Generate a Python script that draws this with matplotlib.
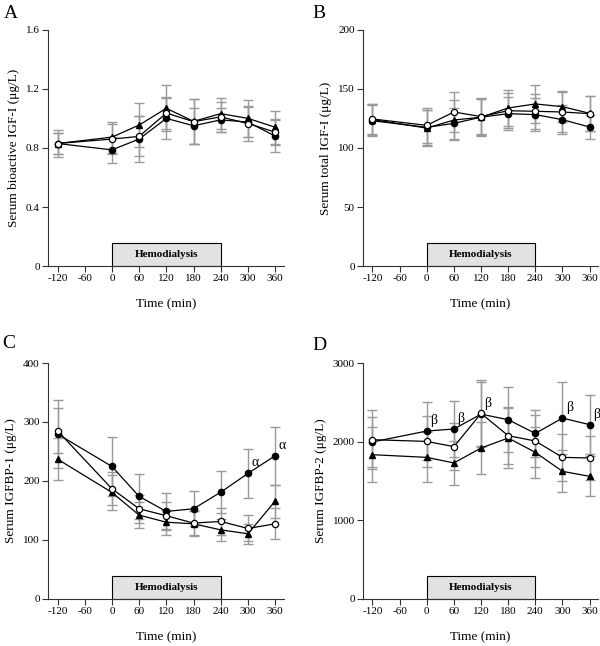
import matplotlib
matplotlib.use("Agg")
import matplotlib.pyplot as plt
from matplotlib.patches import Rectangle
from matplotlib.transforms import blended_transform_factory

plt.rcParams['font.family'] = ['Liberation Serif', 'DejaVu Serif']

time = [-120, 0, 60, 120, 180, 240, 300, 360]
xticks = [-120, -60, 0, 60, 120, 180, 240, 300, 360]

# A: bioactive IGF-I (ug/L)
a_filled = [0.83, 0.787, 0.86, 1.0, 0.95, 0.99, 0.975, 0.88]
a_filled_err = [0.07, 0.09, 0.155, 0.14, 0.12, 0.08, 0.10, 0.11]
a_open = [0.83, 0.86, 0.878, 1.036, 0.978, 1.01, 0.965, 0.907]
a_open_err = [0.09, 0.10, 0.135, 0.11, 0.15, 0.10, 0.12, 0.09]
a_tri = [0.83, 0.873, 0.955, 1.068, 0.98, 1.032, 1.0, 0.94]
a_tri_err = [0.07, 0.105, 0.147, 0.156, 0.15, 0.106, 0.125, 0.11]

# B: total IGF-I (ug/L)
b_filled = [123, 117.4, 120.8, 126, 129, 128.2, 123.9, 117.7]
b_filled_err = [13, 15, 13, 15, 14, 14, 12, 10]
b_open = [124.5, 119.1, 130.4, 126.5, 131.5, 131, 130.4, 129]
b_open_err = [13, 15, 17, 15, 15, 15, 17, 15]
b_tri = [124, 116.8, 123.6, 126, 133.8, 137.2, 134.9, 129.3]
b_tri_err = [13, 15, 17, 16, 15.6, 16, 13, 15]

# C: IGFBP-1 (ug/L)
c_filled = [279.6, 224.6, 173.7, 148.3, 152.8, 181, 212.8, 242.8]
c_filled_err = [58, 50, 38.5, 31, 30, 36, 41.5, 49]
c_open = [285, 186.7, 152.8, 141, 128.5, 131.3, 119.4, 127.3]
c_open_err = [38, 28, 24, 23, 21, 23, 22, 26]
c_tri = [237, 180.5, 142, 130, 127.3, 117, 110.4, 165.9]
c_tri_err = [36, 29, 22, 21, 21, 19, 17, 28]

# D: IGFBP-2 (ug/L)
d_filled = [1996, 2135, 2161, 2350, 2279, 2105, 2300, 2216]
d_filled_err = [317, 364, 351, 410, 416, 300, 460, 377]
d_open = [2025, 2003, 1936, 2359, 2076, 2008, 1800, 1792]
d_open_err = [372, 327, 300, 425, 360, 335, 300, 280]
d_tri = [1834, 1800, 1729, 1919, 2046, 1864, 1622, 1559]
d_tri_err = [352, 318, 276, 335, 380, 326, 267, 255]

panels = [
    ("A", "Serum bioactive IGF-I (μg/L)", [0, 0.4, 0.8, 1.2, 1.6],
     ["0", "0.4", "0.8", "1.2", "1.6"],
     (a_filled, a_filled_err), (a_open, a_open_err), (a_tri, a_tri_err), None),
    ("B", "Serum total IGF-I (μg/L)", [0, 50, 100, 150, 200],
     ["0", "50", "100", "150", "200"],
     (b_filled, b_filled_err), (b_open, b_open_err), (b_tri, b_tri_err), None),
    ("C", "Serum IGFBP-1 (μg/L)", [0, 100, 200, 300, 400],
     ["0", "100", "200", "300", "400"],
     (c_filled, c_filled_err), (c_open, c_open_err), (c_tri, c_tri_err),
     ("α", [300, 360])),
    ("D", "Serum IGFBP-2 (μg/L)", [0, 1000, 2000, 3000],
     ["0", "1000", "2000", "3000"],
     (d_filled, d_filled_err), (d_open, d_open_err), (d_tri, d_tri_err),
     ("β", [0, 60, 120, 300, 360])),
]

# axes rectangles in figure fractions
rects = [
    (0.080, 0.588, 0.393, 0.366),
    (0.605, 0.588, 0.392, 0.366),
    (0.080, 0.073, 0.393, 0.365),
    (0.605, 0.073, 0.392, 0.365),
]
letter_pos = [(0.007, 0.992), (0.521, 0.992), (0.004, 0.482), (0.520, 0.478)]

fig = plt.figure(figsize=(6, 6.46), dpi=100)

for (letter, ylabel, yt, ytl, filled, opn, tri, note), r, lp in zip(panels, rects, letter_pos):
    ax = fig.add_axes(r)
    ekw = dict(fmt="none", ecolor="#9a9a9a", elinewidth=1, capsize=3.3, capthick=1, zorder=2)
    ax.errorbar(time, filled[0], yerr=filled[1], **ekw)
    ax.errorbar(time, opn[0], yerr=opn[1], **ekw)
    ax.errorbar(time, tri[0], yerr=tri[1], **ekw)
    ax.plot(time, tri[0], "-^", color="black", lw=0.9, ms=4.5, zorder=3)
    ax.plot(time, filled[0], "-o", color="black", lw=0.9, ms=4.5, zorder=4)
    ax.plot(time, opn[0], "-o", color="black", mfc="white", mec="black",
            mew=0.9, lw=0.9, ms=4.5, zorder=5)

    if note is not None:
        sym, xs = note
        for xv in xs:
            i = time.index(xv)
            yv = max(filled[0][i], opn[0][i])
            ax.annotate(sym, (xv, yv), xytext=(5, 7.5), textcoords="offset points",
                        ha="center", va="center", fontsize=10)

    tr = blended_transform_factory(ax.transData, ax.transAxes)
    ax.add_patch(Rectangle((0, 0), 240, 0.097, transform=tr, facecolor="#e2e2e2",
                           edgecolor="black", lw=0.8, zorder=1, clip_on=False))
    ax.text(120, 0.048, "Hemodialysis", transform=tr, ha="center", va="center",
            fontsize=8, fontweight="bold")

    ax.set_xlim(-141, 379)
    ax.set_ylim(yt[0], yt[-1])
    ax.set_xticks(xticks)
    ax.set_xticklabels([str(t) for t in xticks])
    ax.set_yticks(yt)
    ax.set_yticklabels(ytl)
    ax.tick_params(labelsize=8, length=4, width=0.8, pad=2, color="#333333")
    for s in ["top", "right"]:
        ax.spines[s].set_visible(False)
    for s in ["left", "bottom"]:
        ax.spines[s].set_linewidth(0.8)
        ax.spines[s].set_color("#333333")
    ax.set_xlabel("Time (min)", fontsize=9.5, labelpad=11)
    ax.set_ylabel(ylabel, fontsize=9.5, labelpad=4)
    fig.text(lp[0], lp[1], letter, fontsize=14, ha="left", va="top")

fig.savefig("out.png", dpi=100)
